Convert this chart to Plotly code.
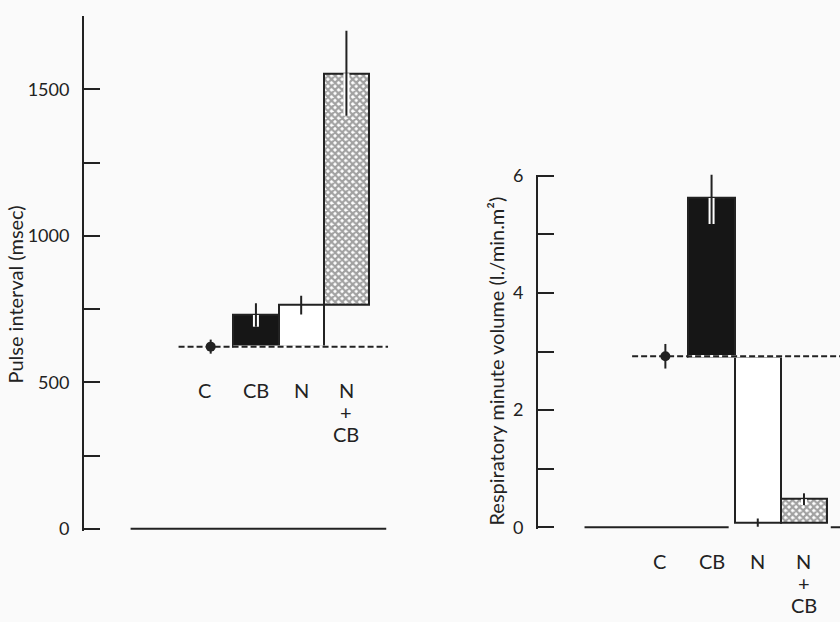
import plotly.graph_objects as go

# ---------------- data ----------------
categories = ["C", "CB", "N", "N+CB"]
cat_labels = ["C", "CB", "N", "N<br>+<br>CB"]

pulse_mean = [622, 730, 764, 1555]      # msec
pulse_err = [24, 40, 32, 145]

resp_mean = [2.92, 5.62, 0.08, 0.48]    # l./min.m2
resp_err = [0.21, 0.44, 0.07, 0.10]

pulse_ticks = [0, 500, 1000, 1500]
resp_ticks = [0, 2, 4, 6]

pulse_title = "Pulse interval (msec)"
resp_title = "Respiratory minute volume (l./min.m²)"

# ---------------- style ----------------
INK = "#222222"
BG = "#fafafa"
FONT = "Lato"
W, H = 840, 622

bar_fill = ["#161616", "white", "white"]          # CB, N, N+CB
bar_pattern = ["", "", "x"]


def px_x(p):
    return p / W


def px_y(p):
    return (H - p) / H


fig = go.Figure()


def add_panel(means, errs, xref, yref):
    # bars: CB and N rise from control level, N+CB from N level
    bases = [means[0], means[0], means[2]]
    tops = [means[1], means[2], means[3]]
    heights = [t - b for t, b in zip(tops, bases)]
    fig.add_trace(go.Bar(
        x=categories[1:], y=heights, base=bases, width=1.0,
        marker=dict(color=bar_fill,
                    line=dict(color=INK, width=2),
                    pattern=dict(shape=bar_pattern, fgcolor="#111111",
                                 size=5, solidity=0.7)),
        xaxis=xref, yaxis=yref, showlegend=False, hoverinfo="skip"))
    # white strips for error bars inside filled bars
    sx, sy = [], []
    for i, c in enumerate(categories[1:], start=1):
        if bar_fill[i - 1] != "white" or bar_pattern[i - 1] != "":
            sx += [c, c, None]
            sy += [means[i] - errs[i], means[i], None]
    fig.add_trace(go.Scatter(x=sx, y=sy, mode="lines",
                             line=dict(color="white", width=6),
                             xaxis=xref, yaxis=yref, showlegend=False,
                             hoverinfo="skip"))
    # error bars
    ex, ey = [], []
    for i, c in enumerate(categories):
        ex += [c, c, None]
        ey += [means[i] - errs[i], means[i] + errs[i], None]
    fig.add_trace(go.Scatter(x=ex, y=ey, mode="lines",
                             line=dict(color=INK, width=2),
                             xaxis=xref, yaxis=yref, showlegend=False,
                             hoverinfo="skip"))
    # control point
    fig.add_trace(go.Scatter(x=categories[:1], y=means[:1], mode="markers",
                             marker=dict(color=INK, size=10),
                             xaxis=xref, yaxis=yref, showlegend=False,
                             hoverinfo="skip"))


def yaxis_style(domain, rng, minor_dtick, ticks):
    return dict(domain=domain, range=rng, showgrid=False, zeroline=False,
                showline=True, linecolor=INK, linewidth=2,
                ticks="inside", ticklen=16, tickwidth=2, tickcolor=INK,
                tickmode="array", tickvals=ticks,
                minor=dict(dtick=minor_dtick, tick0=0, ticks="inside",
                           ticklen=16, tickwidth=2, tickcolor=INK,
                           showgrid=False),
                tickfont=dict(family=FONT, size=18, color=INK),
                ticklabelstandoff=9)


add_panel(pulse_mean, pulse_err, "x", "y")
add_panel(resp_mean, resp_err, "x2", "y2")

shapes = []
# baselines at zero
shapes.append(dict(type="line", xref="x", yref="y", x0=-1.77, x1=3.88,
                   y0=0, y1=0, line=dict(color=INK, width=2)))
shapes.append(dict(type="line", xref="x2", yref="y2", x0=-1.75, x1=1.37,
                   y0=0, y1=0, line=dict(color=INK, width=2)))
shapes.append(dict(type="line", xref="x2", yref="y2", x0=3.58, x1=3.9,
                   y0=0, y1=0, line=dict(color=INK, width=2)))
# control level dashed lines (white underlay under bar edges first)
for xr, yr, m, x0, x1 in [("x", "y", pulse_mean[0], -0.71, 3.92),
                          ("x2", "y2", resp_mean[0], -0.72, 3.9)]:
    shapes.append(dict(type="line", xref=xr, yref=yr, x0=0.5, x1=x1,
                       y0=m, y1=m, line=dict(color="white", width=2.5)))
    shapes.append(dict(type="line", xref=xr, yref=yr, x0=x0, x1=x1,
                       y0=m, y1=m, line=dict(color=INK, width=2,
                                             dash="6px,3px")))

annotations = []
LAB_FONT = dict(family=FONT, size=20, color=INK)
LINE_STEP = 23
# category labels (left: inside plot area; right: below the axis)
for i, lab in enumerate(cat_labels):
    for xr, ypix in [("x", 391), ("x2", 567)]:
        for k, part in enumerate(lab.split("<br>")):
            annotations.append(dict(
                x=categories[i], y=px_y(ypix + k * LINE_STEP), xref=xr,
                yref="paper", text=part, showarrow=False, font=LAB_FONT,
                xanchor="center", yanchor="middle",
                xshift=-6 if i == 0 else 0))
# axis titles
annotations.append(dict(x=px_x(15), y=px_y(293), xref="paper", yref="paper",
                        text=pulse_title, textangle=-90, showarrow=False,
                        xanchor="center", yanchor="middle",
                        font=dict(family=FONT, size=20, color=INK)))
annotations.append(dict(x=px_x(496), y=px_y(362), xref="paper", yref="paper",
                        text=resp_title, textangle=-90, showarrow=False,
                        xanchor="center", yanchor="middle",
                        font=dict(family=FONT, size=20, color=INK)))

xcommon = dict(type="category", categoryorder="array", categoryarray=categories,
               visible=False, showgrid=False, zeroline=False)

fig.update_layout(
    width=W, height=H,
    margin=dict(l=0, r=0, t=0, b=0),
    paper_bgcolor=BG, plot_bgcolor=BG,
    bargap=0,
    xaxis=dict(**xcommon, domain=[px_x(84), px_x(388.5)], range=[-2.80, 3.93],
               anchor="y"),
    yaxis=dict(**yaxis_style([px_y(536.7), px_y(5.8)], [-8, 1752], 250,
                             pulse_ticks), anchor="x"),
    xaxis2=dict(**xcommon, domain=[px_x(538), 1.0], range=[-2.757, 3.78],
                anchor="y2"),
    yaxis2=dict(**yaxis_style([px_y(534.8), px_y(169.6)], [-0.035, 6.02], 1,
                              resp_ticks), anchor="x2"),
    shapes=shapes,
    annotations=annotations,
)

fig.write_html("out.html")
